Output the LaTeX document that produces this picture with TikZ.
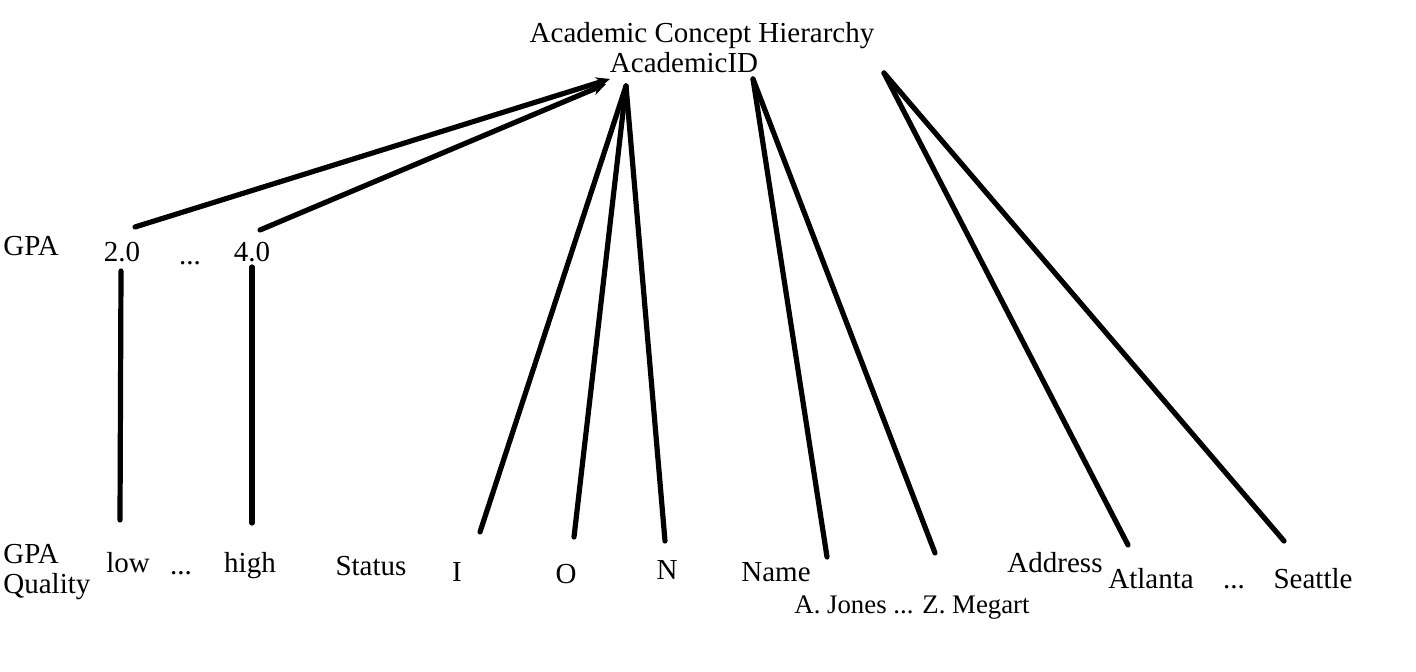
\documentclass[tikz,border=0pt]{standalone}
\usepackage{fontspec}
\setmainfont{Liberation Serif}
\usetikzlibrary{arrows.meta}
\begin{document}
\begin{tikzpicture}[x=0.5pt,y=-0.5pt,
  lbl/.style={inner sep=0pt,anchor=base,font=\fontsize{14.5}{17}\selectfont},
  edge/.style={line width=2.6pt,line cap=round},
  arr/.style={edge,-{Stealth[length=7pt,width=6pt]}}]
\useasboundingbox (0,0) rectangle (1416,672);
% labels
\node[lbl] (title) at (702,43) {Academic Concept Hierarchy};
\node[lbl] (acid) at (684,73) {AcademicID};
\node[lbl,anchor=base west] (gpa) at (3,256) {GPA};
\node[lbl] (g20) at (122,262) {2.0};
\node[lbl] (gdots) at (190,265) {...};
\node[lbl] (g40) at (252,262) {4.0};
\node[lbl,anchor=base west,align=left] (gpaq) at (3,593) {GPA\\[-2pt]Quality};
\node[lbl] (low) at (128,572) {low};
\node[lbl] (qdots) at (181,574) {...};
\node[lbl] (high) at (250,572) {high};
\node[lbl] (status) at (371,575) {Status};
\node[lbl] (sI) at (457,581) {I};
\node[lbl] (sO) at (566,583) {O};
\node[lbl] (sN) at (667,579) {N};
\node[lbl] (name) at (776,581) {Name};
\node[lbl,font=\fontsize{13.4}{16}\selectfont] (names) at (912,613) {A. Jones ... Z. Megart};
\node[lbl] (addr) at (1055,572) {Address};
\node[lbl] (atl) at (1151,588) {Atlanta};
\node[lbl] (adots) at (1234,588) {...};
\node[lbl] (sea) at (1313,588) {Seattle};
% connector end points
\coordinate (a1) at (610,79);
\coordinate (a2) at (606,84);
\coordinate (p20) at (135,227);
\coordinate (p40) at (260,230);
\coordinate (t20) at (121,271);
\coordinate (b20) at (120,520);
\coordinate (t40) at (252,267);
\coordinate (b40) at (252,523);
\coordinate (sTop) at (626,86);
\coordinate (sI1) at (480,532);
\coordinate (sO1) at (574,537);
\coordinate (sN1) at (665,541);
\coordinate (nTop) at (753,79);
\coordinate (nm1) at (827,557);
\coordinate (nm2) at (935,553);
\coordinate (aTop) at (884,73);
\coordinate (at1) at (1128,545);
\coordinate (at2) at (1284,541);
% connectors
\draw[arr] (p20) -- (a1);
\draw[arr] (p40) -- (a2);
\draw[edge] (t20) -- (b20);
\draw[edge] (t40) -- (b40);
\draw[edge] (sTop) -- (sI1);
\draw[edge] (sTop) -- (sO1);
\draw[edge] (sTop) -- (sN1);
\draw[edge] (nTop) -- (nm1);
\draw[edge] (nTop) -- (nm2);
\draw[edge] (aTop) -- (at1);
\draw[edge] (aTop) -- (at2);
\end{tikzpicture}
\end{document}
